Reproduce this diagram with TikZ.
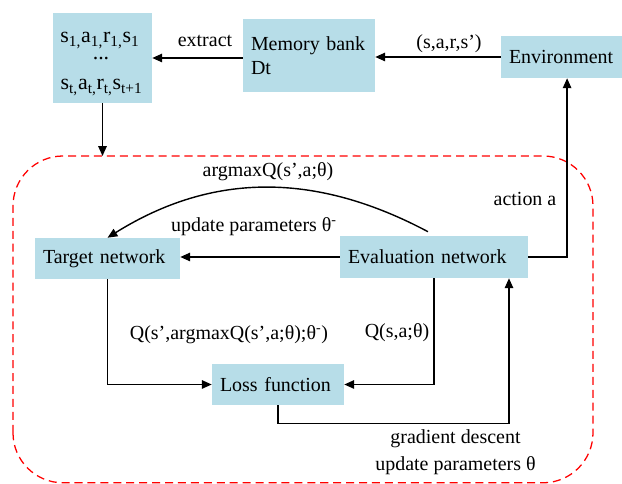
\documentclass[tikz,border=0pt]{standalone}
\usepackage{fontspec}
\setmainfont{Liberation Serif}
\usepackage{tikz}
\usetikzlibrary{arrows.meta,calc}
\definecolor{boxblue}{RGB}{183,221,232}
\tikzset{
    box/.style={fill=boxblue, align=left, inner xsep=0.2cm, inner ysep=0pt},
    flow/.style={line width=1pt, -{Triangle[length=7pt,width=6pt]}},
    sample/.style={anchor=base, font=\fontsize{15.6}{18}\selectfont},
}

\begin{document}
\begin{tikzpicture}[font=\fontsize{14.2}{17}\selectfont]
    \useasboundingbox (0,0) rectangle (15.55,12.1);

    % Replay memory and environment
    \node[box, minimum width=2.475cm, minimum height=2.25cm] (samples) at (2.5625,10.65) {};
    \node[sample] (sample1) at (2.5,11.025) {s\textsubscript{1,}a\textsubscript{1,}r\textsubscript{1,}s\textsubscript{1}};
    \node[sample] (sampledots) at (2.525,10.6) {...};
    \node[sample] (samplet) at (2.54,9.85) {s\textsubscript{t,}a\textsubscript{t,}r\textsubscript{t,}s\textsubscript{t+1}};
    \node[box, text width=2.9cm, minimum height=1.825cm] (memory) at (7.725,10.7125) {Memory bank\\Dt};
    \node[box, text width=2.625cm, minimum height=1.05cm] (env) at (14.0375,10.675) {Environment};

    \draw[flow] (env.west) -- (env.west -| memory.east);
    \draw[flow] (samples.east -| memory.west) -- (samples.east);
    \node (lblextract) at (5.125,11.075) {extract};
    \node (lblsars) at (11.225,11.0) {(s,a,r,s')};

    % Training loop
    \draw[red, dash pattern=on 5.7pt off 3.5pt, line width=0.9pt, rounded corners=1.25cm]
        (0.325,0.03) rectangle (14.825,8.2);
    \coordinate (looptop) at (2.5625,8.2);
    \draw[flow] (samples.south) -- (looptop);

    \node[box, text width=3.225cm, minimum height=1.025cm] (target) at (2.6875,5.6375) {Target network};
    \node[box, text width=4.3cm, minimum height=1.05cm] (eval) at (10.85,5.675) {Evaluation network};
    \node[box, text width=2.9cm, minimum height=1.025cm] (loss) at (6.95,2.4875) {Loss function};

    \draw[flow] (eval.west) -- (eval.west -| target.east);
    \draw[flow] ([xshift=-0.15cm,yshift=0.1cm]eval.north) to[out=152,in=32] (target.north);
    \node (lblargmax) at (6.7,7.8) {argmaxQ(s',a;θ)};
    \node (lblupdate) at (6.35,6.425) {update parameters θ\textsuperscript{-}};

    \draw[flow] (eval.east) -| ([xshift=0.14cm]env.south);
    \node (lblaction) at (13.125,7.125) {action a};

    \draw[flow] (target.south) |- (loss.west);
    \draw[flow] (eval.south) |- (loss.east);
    \node (lblqtarget) at (5.725,3.725) {Q(s',argmaxQ(s',a;θ);θ\textsuperscript{-})};
    \node (lblqeval) at (9.925,3.775) {Q(s,a;θ)};

    \draw[flow] (loss.south) -- ++(0,-0.45) -| ([xshift=1.875cm]eval.south);
    \node[align=center] (lblgrad) at (11.3875,0.7875) {gradient descent\\[2pt]update parameters θ};
\end{tikzpicture}
\end{document}
